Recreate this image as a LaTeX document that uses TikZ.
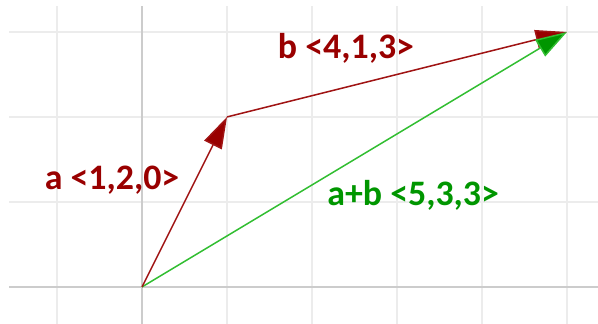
\documentclass[tikz,border=0pt]{standalone}
\usepackage{fontspec}
\setmainfont{Carlito}
\usepackage{tikz}
\usetikzlibrary{arrows.meta}
\usepackage{xcolor}
\definecolor{vecred}{RGB}{160,20,20}
\definecolor{labred}{RGB}{153,0,0}
\definecolor{vecgreen}{RGB}{50,190,50}
\definecolor{labgreen}{RGB}{0,150,0}

\begin{document}
\begin{tikzpicture}[>={Triangle[length=10.5pt,width=6.5pt]},
  lab/.style={font=\bfseries\fontsize{12}{14}\selectfont,inner sep=1pt}]
  \useasboundingbox (-1.671,-0.435) rectangle (5.365,3.376);
  % grid and axes
  \foreach \x in {-1,1,2,3,4,5}
    \draw[gray!15,line width=0.4pt] (\x,-0.435) -- (\x,3.306);
  \foreach \y in {1,2,3}
    \draw[gray!15,line width=0.4pt] (-1.565,\y) -- (5.365,\y);
  \draw[gray!40,line width=0.5pt] (0,-0.435) -- (0,3.306);
  \draw[gray!40,line width=0.5pt] (-1.565,0) -- (5.365,0);
  % vectors
  \coordinate (o) at (0,0);
  \coordinate (a) at (1,2);
  \coordinate (s) at (5,3);
  \draw[vecred,line width=0.5pt,-{>[fill=labred]}] (a) -- (s);
  \draw[vecgreen,line width=0.5pt,-{>[fill=labgreen]}] (o) -- (s);
  \draw[vecred,line width=0.5pt,-{>[fill=labred]}] (o) -- (a);
  % labels
  \node (la) [lab,text=labred] at (-0.353,1.26) {a <1,2,0>};
  \node (lb) [lab,text=labred] at (2.4,2.81) {b <4,1,3>};
  \node (ls) [lab,text=labgreen] at (3.19,1.08) {a+b <5,3,3>};
\end{tikzpicture}
\end{document}
